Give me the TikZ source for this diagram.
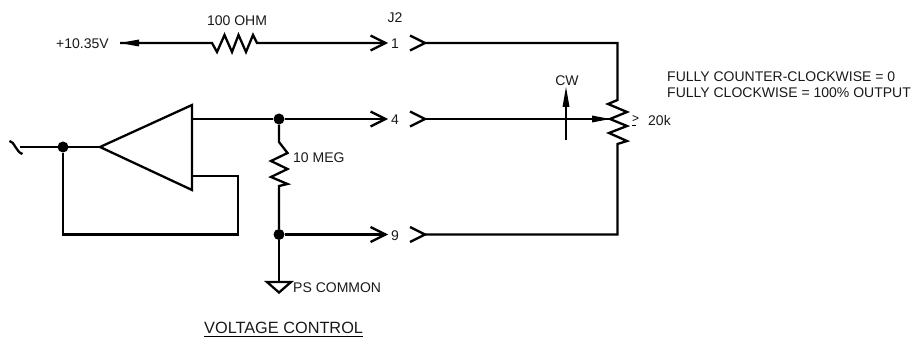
\documentclass[tikz,border=0pt]{standalone}
\usepackage{fontspec}
\setmainfont{Liberation Sans}
\begin{document}
\begin{tikzpicture}[x=1pt,y=-1pt,
  wire/.style={line width=2.3pt,line cap=butt,line join=miter,black},
  chev/.style={line width=2.3pt,black},
  dotn/.style={circle,fill=black,inner sep=0pt,minimum size=11pt},
  lbl/.style={inner sep=0pt,font=\fontsize{14}{16}\selectfont,text=black!90},
  tip/.style={fill=black,draw=none}]
\useasboundingbox (0,0) rectangle (915,339);
% named points
\coordinate (in) at (20,147);
\node[dotn] (d1) at (63,147) {};
\coordinate (oa) at (100,147);
\coordinate (ot) at (192,105);
\coordinate (ob) at (192,190);
\coordinate (oo) at (192,119);
\coordinate (ofb) at (192,176);
\coordinate (c1) at (238,176);
\coordinate (c2) at (238,234.5);
\coordinate (c3) at (63,234.5);
\node[dotn] (d2) at (279,119) {};
\node[dotn] (d3) at (279,234.5) {};
\coordinate (p1) at (385.5,43);
\coordinate (p4) at (385.5,119);
\coordinate (p9) at (385.5,234.5);
\coordinate (s1) at (425,43);
\coordinate (s4) at (425,119);
\coordinate (s9) at (425,234.5);
\coordinate (ptop) at (617.5,43);
\coordinate (pbot) at (617.5,234.5);
\coordinate (vtip) at (120,43);
% op amp
\draw[wire] (oa) -- (ot) -- (ob) -- cycle;
\draw[wire] (in) -- (oa);
\draw[wire] (9.5,141) .. controls (14,141) and (16,152) .. (22.5,154);
\draw[wire] (ofb) -- (c1) -- (c2) -- (c3) -- (d1);
\draw[wire] (oo) -- (d2) -- (p4);
% 100 ohm
\draw[wire] (vtip) -- (212,43) -- (217,52) -- (224.5,35) -- (232,52) -- (238.5,35) -- (246,52) -- (253,35) -- (257,43) -- (p1);
\fill[tip] (vtip) -- (139,39.5) -- (139,46.5) -- cycle;
% 10 meg
\draw[wire] (d2) -- (279,142) -- (287.5,153) -- (271,161) -- (287.5,169) -- (271,177) -- (287.5,184) -- (279,186) -- (d3);
\draw[wire] (d3) -- (p9);
% ground
\draw[wire] (d3) -- (279,282);
\draw[wire] (267,282) -- (291,282) -- (279,292.5) -- cycle;
% chevrons
\foreach \p in {p1,p4,p9}{\draw[chev] ([shift={(-15,-7.5)}]\p) -- (\p) -- ([shift={(-15,7.5)}]\p);}
\foreach \p in {s1,s4,s9}{\draw[chev] ([shift={(-15,-7.5)}]\p) -- (\p) -- ([shift={(-15,7.5)}]\p);}
% right side
\draw[wire] (s1) -- (ptop) -- (617.5,100) -- (608,104) -- (627,112) -- (610,119) -- (627,126) -- (609,133) -- (627,141) -- (617.5,144) -- (pbot) -- (s9);
\draw[wire] (s4) -- (610,119);
\fill[tip] (610,119) -- (592,115.5) -- (592,122.5) -- cycle;
% CW
\draw[wire] (566,140) -- (566,100);
\fill[tip] (566,87) -- (562.5,107) -- (569.5,107) -- cycle;
% labels
\node[lbl,anchor=base] (t100) at (237,25.5) {100 OHM};
\node[lbl,anchor=base west] (tv) at (56,49) {+10.35V};
\node[lbl,anchor=base] (tj) at (395,22.5) {J2};
\node[lbl,anchor=base] (t1) at (395,49) {1};
\node[lbl,anchor=base] (t4) at (395,125) {4};
\node[lbl,anchor=base] (t9) at (395,240.5) {9};
\node[lbl,anchor=base west] (tm) at (293,163) {10 MEG};
\node[lbl,anchor=base west] (tc) at (293,292.5) {PS COMMON};
\node[lbl,anchor=base] (tcw) at (567,86) {CW};
\node[lbl,anchor=base west] (tk) at (648,126) {20k};
\node[lbl,anchor=base west] (tf1) at (667,82) {FULLY COUNTER-CLOCKWISE = 0};
\node[lbl,anchor=base west] (tf2) at (667,97.5) {FULLY CLOCKWISE = 100\% OUTPUT};
\node[lbl,anchor=base west,font=\fontsize{16.3}{18}\selectfont] (tvc) at (204,333) {VOLTAGE CONTROL};
\draw[line width=1pt] ([yshift=-3pt]tvc.base west) -- ([yshift=-3pt]tvc.base east);
\node[inner sep=0pt,font=\fontsize{12}{13}\selectfont,anchor=base] (ge) at (635.5,122.5) {>};
\draw[line width=1pt] (632,125.5) -- (636,125.5);
\end{tikzpicture}
\end{document}
